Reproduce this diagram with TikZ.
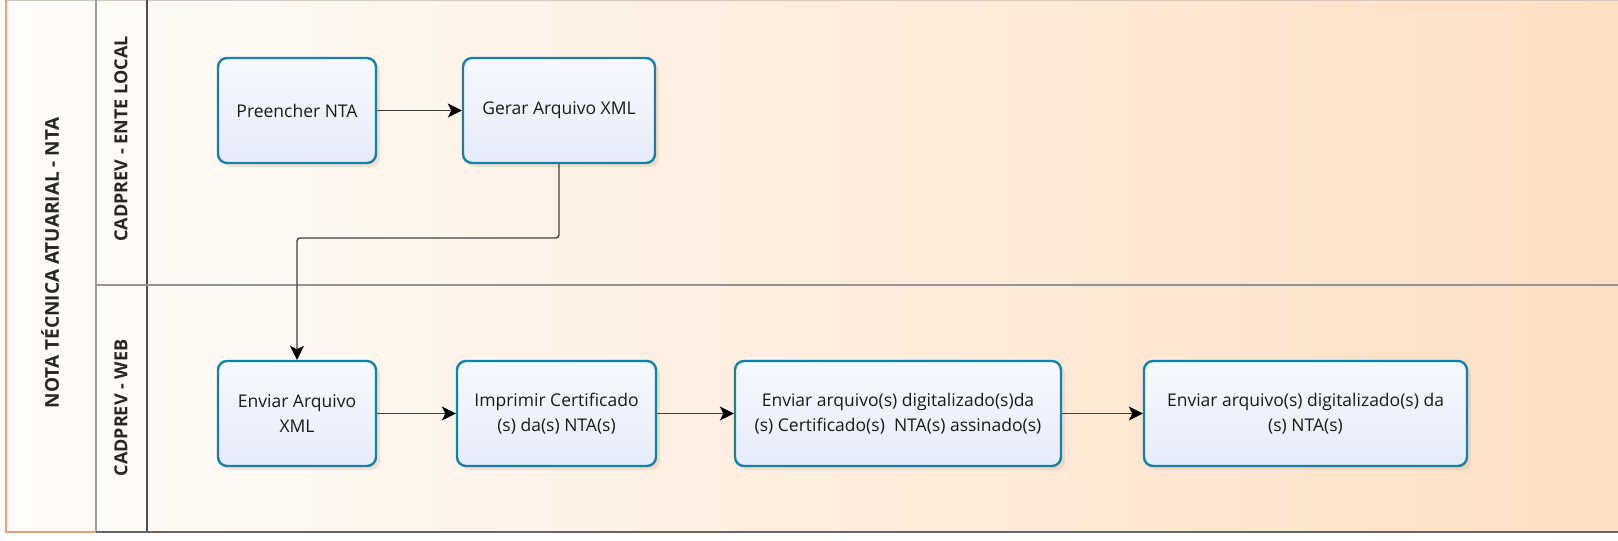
\documentclass[tikz,border=0pt]{standalone}
\usepackage{fontspec}
\setmainfont{Open Sans}
\usetikzlibrary{arrows.meta,shadows}
\definecolor{peach}{RGB}{253,224,195}
\definecolor{paleleft}{RGB}{255,252,250}
\definecolor{boxline}{RGB}{22,128,168}
\definecolor{boxtop}{RGB}{247,249,255}
\definecolor{boxbot}{RGB}{230,236,251}
\definecolor{poolline}{RGB}{230,160,122}
\definecolor{shadowc}{RGB}{226,186,156}
\definecolor{topline}{RGB}{215,200,188}
\begin{document}
\begin{tikzpicture}[x=1pt,y=-1pt,
  task/.style={draw=boxline, line width=2.4pt, rounded corners=9pt,
    top color=boxtop, bottom color=boxbot, minimum height=105pt,
    align=center, inner sep=2pt, font=\fontsize{17.5}{25}\selectfont, text=black!90,
    drop shadow={shadow xshift=4pt, shadow yshift=-4pt, opacity=0.35, fill=shadowc}},
  flow/.style={draw=black!75, line width=1.4pt,
    -{Stealth[length=14pt,width=14pt,inset=3.5pt,fill=black,color=black]}, rounded corners=3pt},
  lanetxt/.style={rotate=90, font=\bfseries\fontsize{18}{20}\selectfont, text=black!85}]
\useasboundingbox (0,0) rectangle (1618,541);
% background
\shade[left color=paleleft, right color=peach] (6,0) rectangle (1618,532);
\draw[topline, line width=1pt] (6,0.5) -- (1618,0.5);
\draw[poolline, line width=1.6pt] (6,0) -- (6,532) -- (96,532);
\draw[gray!75, line width=1.8pt] (96,0) -- (96,532);
\draw[black!70, line width=2pt] (147,0) -- (147,532);
\draw[gray!85, line width=1.3pt] (96,285) -- (1618,285);
\draw[black!60, line width=2.5pt] (96,532) -- (1618,532);
% headers
\node[lanetxt, font=\bfseries\fontsize{19}{21}\selectfont] (pool) at (50,263) {NOTA TÉCNICA ATUARIAL - NTA};
\node[lanetxt] (lane1) at (121,139) {CADPREV - ENTE LOCAL};
\node[lanetxt] (lane2) at (121,408) {CADPREV - WEB};
% tasks
\node[task, minimum width=158pt] (pre) at (297,110.5) {Preencher NTA};
\node[task, minimum width=192pt] (gerar) at (559,110.5) {Gerar Arquivo XML};
\node[task, minimum width=158pt] (enviar) at (297,413.5) {Enviar Arquivo\\XML};
\node[task, minimum width=199pt] (imprimir) at (556.5,413.5) {Imprimir Certificado\\(s) da(s) NTA(s)};
\node[task, minimum width=326pt] (env2) at (898,413.5) {Enviar arquivo(s) digitalizado(s)da\\(s) Certificado(s)\ \ NTA(s) assinado(s)};
\node[task, minimum width=323pt] (env3) at (1305.5,413.5) {Enviar arquivo(s) digitalizado(s) da\\(s) NTA(s)};
% flows
\draw[flow] (pre) -- (gerar);
\draw[flow] (gerar.south) -- (559,238) -- (297,238) -- (enviar.north);
\draw[flow] (enviar) -- (imprimir);
\draw[flow] (imprimir) -- (env2);
\draw[flow] (env2) -- (env3);
\end{tikzpicture}
\end{document}
